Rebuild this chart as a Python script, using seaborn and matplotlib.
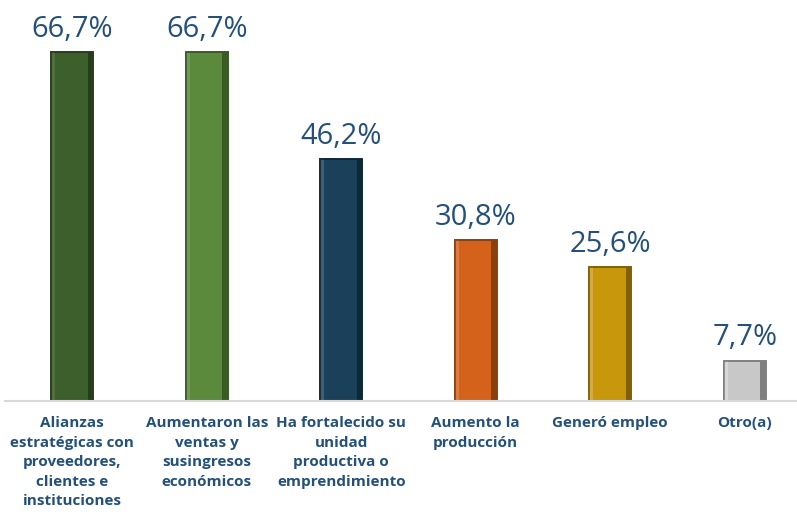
import matplotlib
matplotlib.use("Agg")
import matplotlib.pyplot as plt
from matplotlib.patches import Rectangle
import seaborn as sns
import pandas as pd

categories = [
    "Alianzas\nestratégicas con\nproveedores,\nclientes e\ninstituciones",
    "Aumentaron las\nventas y\nsusingresos\neconómicos",
    "Ha fortalecido su\nunidad\nproductiva o\nemprendimiento",
    "Aumento la\nproducción",
    "Generó empleo",
    "Otro(a)",
]
values = [66.7, 66.7, 46.2, 30.8, 25.6, 7.7]
value_labels = ["66,7%", "66,7%", "46,2%", "30,8%", "25,6%", "7,7%"]

fill_colors = ["#3d5f2b", "#5b8a3c", "#1a4159", "#d4621b", "#c9970c", "#c8c8c8"]
edge_colors = ["#263c1a", "#3a5a26", "#0f2837", "#8a3f10", "#7f5f08", "#7f7f7f"]
light_colors = ["#4f6f40", "#6f9a54", "#3d5e73", "#de7b3e", "#d6aa3c", "#d8d8d8"]
text_color = "#24507c"

sns.set_theme(style="white")
plt.rcParams["font.family"] = ["Open Sans", "DejaVu Sans"]

df = pd.DataFrame({"categoria": categories, "valor": values})

fig = plt.figure(figsize=(7.97, 5.12), dpi=100)
ax = fig.add_axes([5 / 797, 111 / 512, 807 / 797, 401 / 512])

sns.barplot(data=df, x="categoria", y="valor", hue="categoria",
            palette=fill_colors, legend=False, width=0.31, ax=ax,
            saturation=1)

# bevelled look: lighter left rim, darker right rim, thin dark outline
for patch, ec, lc in zip(ax.patches, edge_colors, light_colors):
    x0, w, h = patch.get_x(), patch.get_width(), patch.get_height()
    z = patch.get_zorder()
    patch.set_edgecolor(ec)
    patch.set_linewidth(1.2)
    ax.add_patch(Rectangle((x0, 0), w * 0.09, h, facecolor=lc,
                           edgecolor="none", zorder=z + 0.1))
    ax.add_patch(Rectangle((x0 + w * 0.87, 0), w * 0.13, h, facecolor=ec,
                           edgecolor="none", zorder=z + 0.1))
    ax.add_patch(Rectangle((x0, 0), w, h, facecolor="none",
                           edgecolor=ec, linewidth=1.2, zorder=z + 0.2))

for i, (v, lab) in enumerate(zip(values, value_labels)):
    ax.annotate(lab, (i, v), xytext=(0, 6), textcoords="offset points",
                ha="center", va="bottom", fontsize=21, color=text_color)

ax.set_ylim(0, 76.7)
ax.set_xlim(-0.5, 5.5)
ax.set_yticks([])
ax.set_xlabel("")
ax.set_ylabel("")
for side in ["top", "right", "left"]:
    ax.spines[side].set_visible(False)
ax.spines["bottom"].set_color("#d9d9d9")
ax.spines["bottom"].set_linewidth(1.5)
ax.tick_params(axis="x", length=0, pad=11)
for t in ax.get_xticklabels():
    t.set_fontsize(11)
    t.set_fontweight("bold")
    t.set_color(text_color)
    t.set_linespacing(1.5)
    t.set_verticalalignment("top")

fig.savefig("out.png", dpi=100)
